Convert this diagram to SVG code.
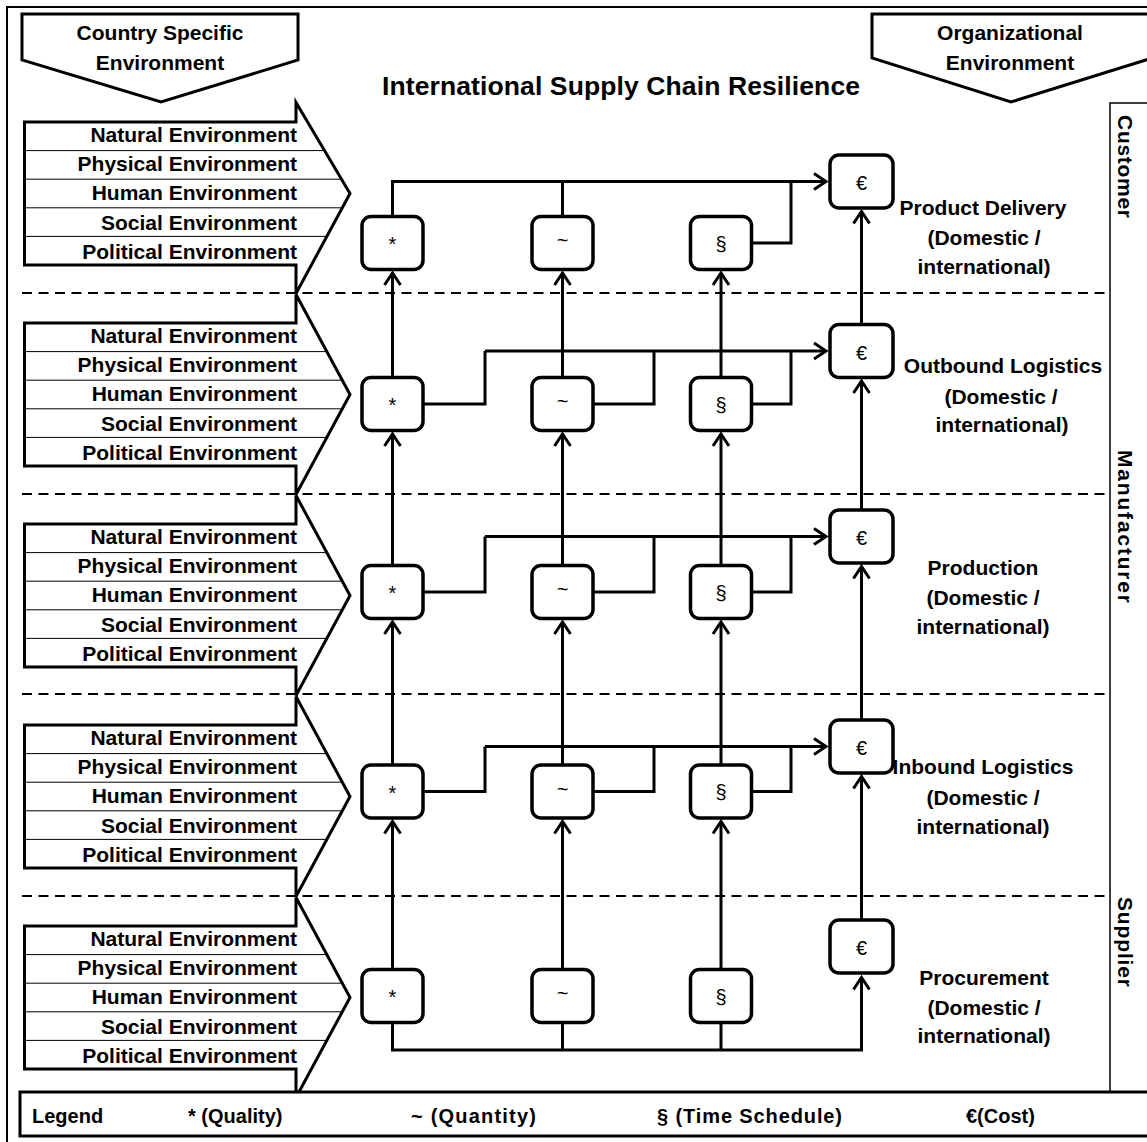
<svg xmlns="http://www.w3.org/2000/svg" width="1147" height="1142" viewBox="0 0 1147 1142">
  <style>
    .lbl { font-family: "Liberation Sans", Arial, sans-serif; font-weight: bold; fill: #000; }
    .env { font-size: 21px; text-anchor: end; }
    .stage { font-size: 21px; text-anchor: middle; }
    .head { font-size: 21px; text-anchor: middle; }
    .side { font-size: 21px; }
    .leg { font-size: 20px; }
    .sym { font-family: "Liberation Sans", Arial, sans-serif; font-size: 20px; text-anchor: middle; fill: #000; }
    .shape { fill: #fff; stroke: #000; stroke-width: 3; stroke-linejoin: miter; }
    .sep { stroke: #000; stroke-width: 1; }
    .box { fill: #fff; stroke: #000; stroke-width: 3.5; }
    .conn { fill: none; stroke: #000; stroke-width: 3; stroke-linejoin: miter; }
    .dash { stroke: #000; stroke-width: 2; stroke-dasharray: 10 6.5; }
  </style>
  <defs>
    <marker id="arrow" markerUnits="userSpaceOnUse" viewBox="-16 -11 20 22" markerWidth="20" markerHeight="22" refX="0" refY="0" orient="auto">
      <path d="M-12,-8 L0,0 L-12,8" fill="none" stroke="#000" stroke-width="3"/>
    </marker>
  </defs>

  <rect x="0" y="0" width="1147" height="1142" fill="#fff"/>
  <!-- outer frame -->
  <rect x="7" y="7" width="1150" height="1150" fill="none" stroke="#000" stroke-width="2"/>

  <!-- stage separators -->
  <g id="stage-dividers">
    <line class="dash" x1="22" y1="293" x2="1108" y2="293"/>
    <line class="dash" x1="22" y1="494" x2="1108" y2="494"/>
    <line class="dash" x1="22" y1="694" x2="1108" y2="694"/>
    <line class="dash" x1="22" y1="896" x2="1108" y2="896"/>
  </g>

  <!-- actor column on the right -->
  <g id="actor-column">
    <rect x="1110" y="103" width="60" height="989" fill="none" stroke="#000" stroke-width="1.5"/>
    <text class="lbl side" transform="translate(1118,115) rotate(90)" textLength="103">Customer</text>
    <text class="lbl side" transform="translate(1118,450) rotate(90)" textLength="153">Manufacturer</text>
    <text class="lbl side" transform="translate(1118,897) rotate(90)" textLength="90">Supplier</text>
  </g>

  <!-- headers -->
  <g id="country-environment">
    <polygon class="shape" points="22,14 298,14 298,60 161,102 22,60"/>
    <text class="lbl head" x="160" y="40">Country Specific</text>
    <text class="lbl head" x="160" y="70">Environment</text>
  </g>
  <g id="organizational-environment">
    <polygon class="shape" points="872,14 1152,14 1152,58 1011,102 872,58"/>
    <text class="lbl head" x="1010" y="40">Organizational</text>
    <text class="lbl head" x="1010" y="70">Environment</text>
  </g>
  <text id="title" class="lbl" x="621" y="95" font-size="26.5" text-anchor="middle" textLength="478">International Supply Chain Resilience</text>

  <!-- country specific environment arrows, one per stage -->
  <g id="env-delivery" transform="translate(0,193.5)">
    <polygon class="shape" points="24.5,-71.5 296,-71.5 296,-91 350,0 296,100 296,71.5 24.5,71.5"/>
    <line class="sep" x1="24.5" y1="-42.9" x2="324.5" y2="-42.9"/>
    <line class="sep" x1="24.5" y1="-14.3" x2="341.5" y2="-14.3"/>
    <line class="sep" x1="24.5" y1="14.3" x2="342.3" y2="14.3"/>
    <line class="sep" x1="24.5" y1="42.9" x2="326.8" y2="42.9"/>
    <text class="lbl env" x="297" y="-51.5">Natural Environment</text>
    <text class="lbl env" x="297" y="-22.3">Physical Environment</text>
    <text class="lbl env" x="297" y="6.9">Human Environment</text>
    <text class="lbl env" x="297" y="36.1">Social Environment</text>
    <text class="lbl env" x="297" y="65.3">Political Environment</text>
  </g>
  <g id="env-outbound" transform="translate(0,394.5)">
    <polygon class="shape" points="24.5,-71.5 296,-71.5 296,-100 350,0 296,100 296,71.5 24.5,71.5"/>
    <line class="sep" x1="24.5" y1="-42.9" x2="326.8" y2="-42.9"/>
    <line class="sep" x1="24.5" y1="-14.3" x2="342.3" y2="-14.3"/>
    <line class="sep" x1="24.5" y1="14.3" x2="342.3" y2="14.3"/>
    <line class="sep" x1="24.5" y1="42.9" x2="326.8" y2="42.9"/>
    <text class="lbl env" x="297" y="-51.5">Natural Environment</text>
    <text class="lbl env" x="297" y="-22.3">Physical Environment</text>
    <text class="lbl env" x="297" y="6.9">Human Environment</text>
    <text class="lbl env" x="297" y="36.1">Social Environment</text>
    <text class="lbl env" x="297" y="65.3">Political Environment</text>
  </g>
  <g id="env-production" transform="translate(0,595.5)">
    <polygon class="shape" points="24.5,-71.5 296,-71.5 296,-100 350,0 296,100 296,71.5 24.5,71.5"/>
    <line class="sep" x1="24.5" y1="-42.9" x2="326.8" y2="-42.9"/>
    <line class="sep" x1="24.5" y1="-14.3" x2="342.3" y2="-14.3"/>
    <line class="sep" x1="24.5" y1="14.3" x2="342.3" y2="14.3"/>
    <line class="sep" x1="24.5" y1="42.9" x2="326.8" y2="42.9"/>
    <text class="lbl env" x="297" y="-51.5">Natural Environment</text>
    <text class="lbl env" x="297" y="-22.3">Physical Environment</text>
    <text class="lbl env" x="297" y="6.9">Human Environment</text>
    <text class="lbl env" x="297" y="36.1">Social Environment</text>
    <text class="lbl env" x="297" y="65.3">Political Environment</text>
  </g>
  <g id="env-inbound" transform="translate(0,796.5)">
    <polygon class="shape" points="24.5,-71.5 296,-71.5 296,-100 350,0 296,100 296,71.5 24.5,71.5"/>
    <line class="sep" x1="24.5" y1="-42.9" x2="326.8" y2="-42.9"/>
    <line class="sep" x1="24.5" y1="-14.3" x2="342.3" y2="-14.3"/>
    <line class="sep" x1="24.5" y1="14.3" x2="342.3" y2="14.3"/>
    <line class="sep" x1="24.5" y1="42.9" x2="326.8" y2="42.9"/>
    <text class="lbl env" x="297" y="-51.5">Natural Environment</text>
    <text class="lbl env" x="297" y="-22.3">Physical Environment</text>
    <text class="lbl env" x="297" y="6.9">Human Environment</text>
    <text class="lbl env" x="297" y="36.1">Social Environment</text>
    <text class="lbl env" x="297" y="65.3">Political Environment</text>
  </g>
  <g id="env-procurement" transform="translate(0,997.5)">
    <polygon class="shape" points="24.5,-71.5 296,-71.5 296,-100 350,0 296,100 296,71.5 24.5,71.5"/>
    <line class="sep" x1="24.5" y1="-42.9" x2="326.8" y2="-42.9"/>
    <line class="sep" x1="24.5" y1="-14.3" x2="342.3" y2="-14.3"/>
    <line class="sep" x1="24.5" y1="14.3" x2="342.3" y2="14.3"/>
    <line class="sep" x1="24.5" y1="42.9" x2="326.8" y2="42.9"/>
    <text class="lbl env" x="297" y="-51.5">Natural Environment</text>
    <text class="lbl env" x="297" y="-22.3">Physical Environment</text>
    <text class="lbl env" x="297" y="6.9">Human Environment</text>
    <text class="lbl env" x="297" y="36.1">Social Environment</text>
    <text class="lbl env" x="297" y="65.3">Political Environment</text>
  </g>

  <!-- connectors -->
  <g id="connectors">
    <!-- upward flows between stages: quality, quantity, time, cost -->
    <path class="conn" marker-end="url(#arrow)" d="M392.5,377.5 V273"/>
    <path class="conn" marker-end="url(#arrow)" d="M562.5,377.5 V273"/>
    <path class="conn" marker-end="url(#arrow)" d="M721,377.5 V273"/>
    <path class="conn" marker-end="url(#arrow)" d="M861.5,324.5 V211.5"/>

    <path class="conn" marker-end="url(#arrow)" d="M392.5,565.5 V434"/>
    <path class="conn" marker-end="url(#arrow)" d="M562.5,565.5 V434"/>
    <path class="conn" marker-end="url(#arrow)" d="M721,565.5 V434"/>
    <path class="conn" marker-end="url(#arrow)" d="M861.5,510 V381"/>

    <path class="conn" marker-end="url(#arrow)" d="M392.5,765 V622"/>
    <path class="conn" marker-end="url(#arrow)" d="M562.5,765 V622"/>
    <path class="conn" marker-end="url(#arrow)" d="M721,765 V622"/>
    <path class="conn" marker-end="url(#arrow)" d="M861.5,720 V566.5"/>

    <path class="conn" marker-end="url(#arrow)" d="M392.5,969.5 V821.5"/>
    <path class="conn" marker-end="url(#arrow)" d="M562.5,969.5 V821.5"/>
    <path class="conn" marker-end="url(#arrow)" d="M721,969.5 V821.5"/>
    <path class="conn" marker-end="url(#arrow)" d="M861.5,920 V776.5"/>

    <!-- product delivery: feeds into cost -->
    <path class="conn" marker-end="url(#arrow)" d="M392.5,216.5 V181.5 H826"/>
    <path class="conn" d="M562.5,216.5 V181.5"/>
    <path class="conn" d="M751.5,243 H791 V181.5"/>

    <!-- outbound logistics -->
    <path class="conn" marker-end="url(#arrow)" d="M485,351 H826"/>
    <path class="conn" d="M423,404 H485 V351"/>
    <path class="conn" d="M593,404 H654 V351"/>
    <path class="conn" d="M751.5,404 H791 V351"/>

    <!-- production -->
    <path class="conn" marker-end="url(#arrow)" d="M485,536.5 H826"/>
    <path class="conn" d="M423,592 H485 V536.5"/>
    <path class="conn" d="M593,592 H654 V536.5"/>
    <path class="conn" d="M751.5,592 H791 V536.5"/>

    <!-- inbound logistics -->
    <path class="conn" marker-end="url(#arrow)" d="M485,746.5 H826"/>
    <path class="conn" d="M423,791.5 H485 V746.5"/>
    <path class="conn" d="M593,791.5 H654 V746.5"/>
    <path class="conn" d="M751.5,791.5 H791 V746.5"/>

    <!-- procurement: collected below -->
    <path class="conn" marker-end="url(#arrow)" d="M392.5,1022.5 V1050 H861.5 V977.5"/>
    <path class="conn" d="M562.5,1022.5 V1050"/>
    <path class="conn" d="M721,1022.5 V1050"/>
  </g>

  <!-- stage: product delivery -->
  <g id="delivery-quality"><rect class="box" x="362" y="216.5" width="61" height="53" rx="9"/><text class="sym" x="392.5" y="251">*</text></g>
  <g id="delivery-quantity"><rect class="box" x="532" y="216.5" width="61" height="53" rx="9"/><text class="sym" x="562.5" y="247">~</text></g>
  <g id="delivery-time"><rect class="box" x="690.5" y="216.5" width="61" height="53" rx="9"/><text class="sym" x="721" y="250.5">§</text></g>
  <g id="delivery-cost"><rect class="box" x="830" y="155" width="63" height="53" rx="9"/><text class="sym" x="861.5" y="190">€</text></g>
  <g id="delivery-label">
    <text class="lbl stage" x="983" y="215">Product Delivery</text>
    <text class="lbl stage" x="984" y="245">(Domestic /</text>
    <text class="lbl stage" x="984" y="274">international)</text>
  </g>

  <!-- stage: outbound logistics -->
  <g id="outbound-quality"><rect class="box" x="362" y="377.5" width="61" height="53" rx="9"/><text class="sym" x="392.5" y="412">*</text></g>
  <g id="outbound-quantity"><rect class="box" x="532" y="377.5" width="61" height="53" rx="9"/><text class="sym" x="562.5" y="408">~</text></g>
  <g id="outbound-time"><rect class="box" x="690.5" y="377.5" width="61" height="53" rx="9"/><text class="sym" x="721" y="411.5">§</text></g>
  <g id="outbound-cost"><rect class="box" x="830" y="324.5" width="63" height="53" rx="9"/><text class="sym" x="861.5" y="359.5">€</text></g>
  <g id="outbound-label">
    <text class="lbl stage" x="1003" y="373">Outbound Logistics</text>
    <text class="lbl stage" x="1001" y="404">(Domestic /</text>
    <text class="lbl stage" x="1002" y="432">international)</text>
  </g>

  <!-- stage: production -->
  <g id="production-quality"><rect class="box" x="362" y="565.5" width="61" height="53" rx="9"/><text class="sym" x="392.5" y="600">*</text></g>
  <g id="production-quantity"><rect class="box" x="532" y="565.5" width="61" height="53" rx="9"/><text class="sym" x="562.5" y="596">~</text></g>
  <g id="production-time"><rect class="box" x="690.5" y="565.5" width="61" height="53" rx="9"/><text class="sym" x="721" y="599.5">§</text></g>
  <g id="production-cost"><rect class="box" x="830" y="510" width="63" height="53" rx="9"/><text class="sym" x="861.5" y="545">€</text></g>
  <g id="production-label">
    <text class="lbl stage" x="983" y="575">Production</text>
    <text class="lbl stage" x="983" y="605">(Domestic /</text>
    <text class="lbl stage" x="983" y="634">international)</text>
  </g>

  <!-- stage: inbound logistics -->
  <g id="inbound-quality"><rect class="box" x="362" y="765" width="61" height="53" rx="9"/><text class="sym" x="392.5" y="799.5">*</text></g>
  <g id="inbound-quantity"><rect class="box" x="532" y="765" width="61" height="53" rx="9"/><text class="sym" x="562.5" y="795.5">~</text></g>
  <g id="inbound-time"><rect class="box" x="690.5" y="765" width="61" height="53" rx="9"/><text class="sym" x="721" y="799">§</text></g>
  <g id="inbound-cost"><rect class="box" x="830" y="720" width="63" height="53" rx="9"/><text class="sym" x="861.5" y="755">€</text></g>
  <g id="inbound-label">
    <text class="lbl stage" x="983" y="774">Inbound Logistics</text>
    <text class="lbl stage" x="983" y="805">(Domestic /</text>
    <text class="lbl stage" x="983" y="834">international)</text>
  </g>

  <!-- stage: procurement -->
  <g id="procurement-quality"><rect class="box" x="362" y="969.5" width="61" height="53" rx="9"/><text class="sym" x="392.5" y="1004">*</text></g>
  <g id="procurement-quantity"><rect class="box" x="532" y="969.5" width="61" height="53" rx="9"/><text class="sym" x="562.5" y="1000">~</text></g>
  <g id="procurement-time"><rect class="box" x="690.5" y="969.5" width="61" height="53" rx="9"/><text class="sym" x="721" y="1003.5">§</text></g>
  <g id="procurement-cost"><rect class="box" x="830" y="920" width="63" height="53" rx="9"/><text class="sym" x="861.5" y="955">€</text></g>
  <g id="procurement-label">
    <text class="lbl stage" x="984" y="985">Procurement</text>
    <text class="lbl stage" x="984" y="1015">(Domestic /</text>
    <text class="lbl stage" x="984" y="1043">international)</text>
  </g>

  <!-- legend -->
  <g id="legend">
    <rect x="20" y="1092" width="1150" height="44" fill="#fff" stroke="#000" stroke-width="3"/>
    <text class="lbl leg" x="32" y="1123">Legend</text>
    <text class="lbl leg" x="188" y="1123">* (Quality)</text>
    <text class="lbl leg" x="411" y="1123" textLength="125">~  (Quantity)</text>
    <text class="lbl leg" x="657" y="1123" textLength="185">§  (Time Schedule)</text>
    <text class="lbl leg" x="966" y="1123">€(Cost)</text>
  </g>
</svg>
